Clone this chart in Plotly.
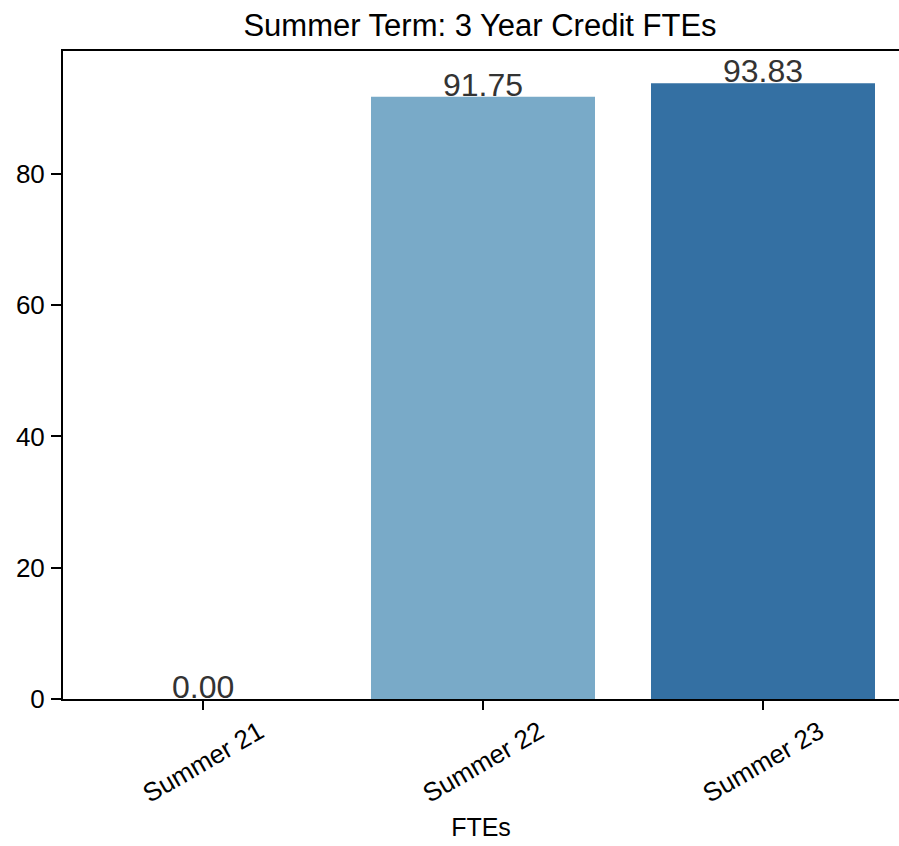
import plotly.graph_objects as go

terms = ["Summer 21", "Summer 22", "Summer 23"]
ftes = [0.00, 91.75, 93.83]
bar_colors = ["#c6dbef", "#79aac8", "#3470a3"]
y_ticks = [0, 20, 40, 60, 80]

FONT = "Liberation Sans, Arial, sans-serif"
W, H = 899, 846
TOP, BOTTOM = 51, 699  # plot area edges in pixels

fig = go.Figure(go.Bar(
    x=list(range(len(terms))), y=ftes, width=0.8,
    marker=dict(color=bar_colors, line=dict(width=0)),
    hoverinfo="skip", showlegend=False,
))

# value labels, baseline sitting on the bar top like matplotlib's bar_label
for i, v in enumerate(ftes):
    fig.add_annotation(x=i, y=v, text=f"{v:.2f}", showarrow=False,
                       xanchor="center", yanchor="bottom", yshift=-8,
                       font=dict(family=FONT, size=32, color="#333333"))

# matplotlib-style rotated labels centred under each tick
for i, t in enumerate(terms):
    fig.add_annotation(x=i, xref="x", y=(BOTTOM - 762) / (BOTTOM - TOP), yref="paper",
                       text=t, textangle=-30, showarrow=False,
                       xanchor="center", yanchor="middle",
                       font=dict(family=FONT, size=26, color="black"))

fig.update_layout(
    width=W, height=H,
    margin=dict(l=63, r=0, t=TOP, b=H - BOTTOM),
    plot_bgcolor="white", paper_bgcolor="white",
    font=dict(family=FONT, size=25, color="black"),
    title=dict(text="Summer Term: 3 Year Credit FTEs", x=480 / W, xref="container",
               y=1 - 25 / H, yref="container", xanchor="center", yanchor="middle",
               font=dict(size=31)),
)
fig.update_xaxes(
    range=[-0.5, -0.5 + (W - 63) / 280], tickvals=list(range(len(terms))),
    showticklabels=False, ticks="outside", ticklen=9, tickwidth=1.6, tickcolor="black",
    showline=True, linecolor="black", linewidth=2, mirror=True,
    showgrid=False, zeroline=False, automargin=False,
    title=dict(text="FTEs", font=dict(size=25), standoff=109),
)
fig.update_yaxes(
    range=[0, 98.74], tickvals=y_ticks, ticks="outside", ticklen=10, tickwidth=1.6,
    tickcolor="black", showline=True, linecolor="black", linewidth=2,
    showgrid=False, zeroline=False, tickfont=dict(size=26), ticklabelstandoff=1,
    automargin=False,
)
# page body margin would shift the figure and add scrollbars
fig.write_html("out.html", config={"displayModeBar": False},
               post_script="document.body.style.margin='0';")
